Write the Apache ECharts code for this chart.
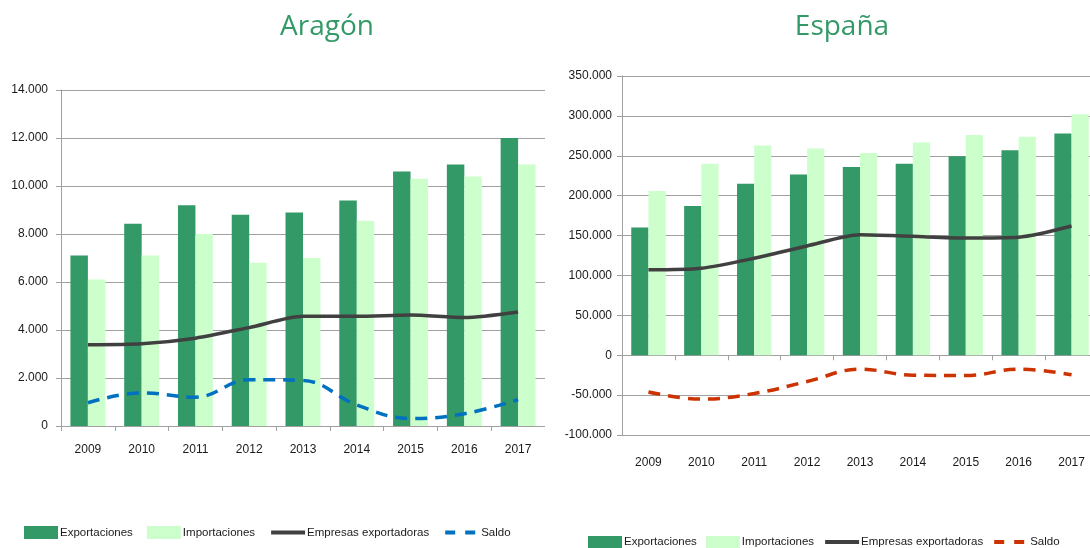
<!DOCTYPE html>
<html>
<head>
<meta charset="utf-8">
<script src="https://cdn.jsdelivr.net/npm/echarts@6/dist/echarts.min.js"></script>
<style>
html,body{margin:0;padding:0;background:#fff;}
#wrap{position:relative;width:1090px;height:548px;overflow:hidden;}
#c1{position:absolute;left:0;top:0;width:545px;height:548px;}
#c2{position:absolute;left:545px;top:0;width:560px;height:548px;}
</style>
</head>
<body>
<div id="wrap"><div id="c1"></div><div id="c2"></div></div>
<script>
const years = ['2009','2010','2011','2012','2013','2014','2015','2016','2017'];

const aragonExport = [7100, 8430, 9200, 8800, 8900, 9400, 10600, 10900, 12000];
const aragonImport = [6100, 7100, 8000, 6800, 7000, 8550, 10300, 10400, 10900];
const aragonEmpresas = [3390, 3430, 3660, 4100, 4570, 4570, 4620, 4520, 4750];
const aragonSaldo = [970, 1380, 1200, 1930, 1900, 880, 310, 510, 1100];

const espanaExport = [160000, 187000, 215000, 226500, 236000, 240000, 249500, 257000, 278000];
const espanaImport = [206000, 240000, 263000, 259000, 253500, 266500, 276000, 274000, 302000];
const espanaEmpresas = [107000, 109000, 121500, 137000, 151000, 149000, 147000, 148000, 162000];
const espanaSaldo = [-46000, -55000, -48000, -33000, -17500, -25000, -25500, -17500, -24500];

const serieNames = ['Exportaciones', 'Importaciones', 'Empresas exportadoras', 'Saldo'];

const LABEL_FONT = "'Liberation Sans', Arial, sans-serif";
const TITLE_FONT = "'Open Sans', 'Noto Sans', sans-serif";
const DARK = '#339966', LIGHT = '#CCFFCC', LINE = '#404040';

function fmt(v) {
  const s = String(Math.abs(v)).replace(/\B(?=(\d{3})+(?!\d))/g, '.');
  return (v < 0 ? '-' : '') + s;
}

function build(cfg) {
  const xAxes = [{
    type: 'category', data: years, gridIndex: 0,
    axisLine: { show: true, onZero: true, lineStyle: { color: '#A0A0A0', width: 1 } },
    axisTick: { show: true, length: 5, lineStyle: { color: '#A0A0A0' } },
    axisLabel: { show: !cfg.bottomLabels, fontFamily: LABEL_FONT, fontSize: 12, color: '#1a1a1a', margin: cfg.xMargin },
    splitLine: { show: false }
  }];
  if (cfg.bottomLabels) {
    xAxes.push({
      type: 'category', data: years, gridIndex: 0, position: 'bottom',
      axisLine: { show: false, onZero: false }, axisTick: { show: false },
      axisLabel: { fontFamily: LABEL_FONT, fontSize: 12, color: '#1a1a1a', margin: cfg.xMargin },
      splitLine: { show: false }
    });
  }
  const hideSym = { opacity: 0 };
  return {
    animation: false,
    title: {
      text: cfg.title, left: cfg.titleX, top: cfg.titleY, textAlign: 'center',
      textStyle: { fontFamily: TITLE_FONT, fontSize: 28, fontWeight: 'normal', color: '#339966' }
    },
    legend: {
      left: cfg.legendLeft, top: cfg.legendTop, padding: 0,
      itemWidth: 34, itemHeight: cfg.legendItemH, itemGap: cfg.legendGap,
      textStyle: { fontFamily: LABEL_FONT, fontSize: 11.5, color: '#1a1a1a', padding: [0, 0, 0, -3] },
      data: [
        { name: serieNames[0], icon: 'rect' },
        { name: serieNames[1], icon: 'rect' },
        { name: serieNames[2], itemStyle: hideSym, lineStyle: { width: 4, color: LINE } },
        { name: serieNames[3], itemStyle: hideSym, lineStyle: { width: 4, color: cfg.saldoColor, type: [10, 10] } }
      ]
    },
    grid: { left: cfg.gridLeft, width: cfg.gridWidth, top: cfg.gridTop, height: cfg.gridHeight, containLabel: false },
    xAxis: xAxes,
    yAxis: {
      type: 'value', min: cfg.yMin, max: cfg.yMax, interval: cfg.yInterval,
      axisLine: { show: true, lineStyle: { color: '#A0A0A0', width: 1 } },
      axisTick: { show: true, length: 5, lineStyle: { color: '#A0A0A0' } },
      axisLabel: { formatter: fmt, fontFamily: LABEL_FONT, fontSize: 12, color: '#1a1a1a', margin: cfg.yMargin },
      splitLine: { show: true, lineStyle: { color: '#A0A0A0', width: 1 } }
    },
    series: [
      { name: serieNames[0], type: 'bar', data: cfg.exp, itemStyle: { color: DARK }, barGap: '0%', barCategoryGap: '35%' },
      { name: serieNames[1], type: 'bar', data: cfg.imp, itemStyle: { color: LIGHT }, barGap: '0%', barCategoryGap: '35%' },
      { name: serieNames[2], type: 'line', data: cfg.emp, symbol: 'none', smooth: 0.25,
        lineStyle: { color: LINE, width: 3.5 }, itemStyle: { color: LINE } },
      { name: serieNames[3], type: 'line', data: cfg.saldo, symbol: 'none', smooth: 0.4,
        lineStyle: { color: cfg.saldoColor, width: 3.5, type: [12, 8] }, itemStyle: { color: cfg.saldoColor } }
    ]
  };
}

const c1 = echarts.init(document.getElementById('c1'), null, { renderer: 'canvas' });
c1.setOption(build({
  title: 'Aragón', titleX: 322, titleY: 8,
  legendLeft: 24, legendTop: 526, legendItemH: 13, legendGap: 14,
  gridLeft: 61, gridWidth: 484, gridTop: 90, gridHeight: 336,
  yMin: 0, yMax: 14000, yInterval: 2000, yMargin: 13, xMargin: 18,
  exp: aragonExport, imp: aragonImport, emp: aragonEmpresas, saldo: aragonSaldo,
  saldoColor: '#0070C0', bottomLabels: false
}));

const c2 = echarts.init(document.getElementById('c2'), null, { renderer: 'canvas' });
c2.setOption(build({
  title: 'España', titleX: 292, titleY: 8,
  legendLeft: 43, legendTop: 536, legendItemH: 12, legendGap: 9,
  gridLeft: 77, gridWidth: 476, gridTop: 76, gridHeight: 359,
  yMin: -100000, yMax: 350000, yInterval: 50000, yMargin: 10, xMargin: 22,
  exp: espanaExport, imp: espanaImport, emp: espanaEmpresas, saldo: espanaSaldo,
  saldoColor: '#CC3300', bottomLabels: true
}));
</script>
</body>
</html>
